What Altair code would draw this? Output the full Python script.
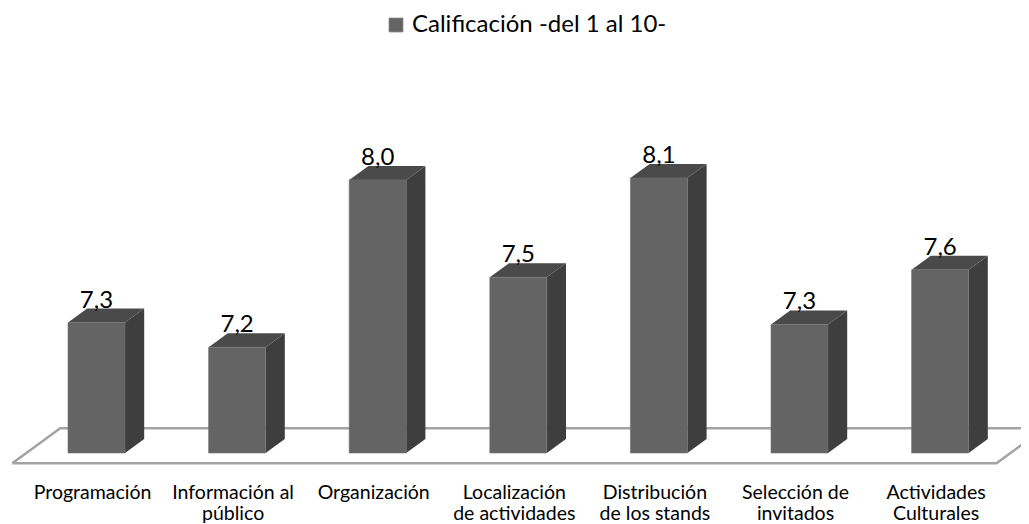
import altair as alt
import pandas as pd

# ---------------- data ----------------
categories = [
    "Programación",
    "Información al\npúblico",
    "Organización",
    "Localización\nde actividades",
    "Distribución\nde los stands",
    "Selección de\ninvitados",
    "Actividades\nCulturales",
]
values = [7.29, 7.16, 8.045, 7.53, 8.055, 7.28, 7.57]
series_name = "Calificación -del 1 al 10-"

# ---------------- geometry constants ----------------
W, H = 1013, 516
BASE = 6.6                      # value-axis minimum (floor level)
X_DOMAIN = [-0.62945, 6.57535]  # category units
Y_DOMAIN = [6.22434, 8.95455]   # value units
HW = 0.2027                     # half width of bar front face
DEPTH_DX, DEPTH_DY = 0.3414, 0.1852   # full floor depth offset
F0, F1 = 0.29, 0.69             # bar front/back position in floor depth
BDX = (F1 - F0) * DEPTH_DX
BDY = (F1 - F0) * DEPTH_DY

FRONT = "#646464"
SIDE = "#3e3e3e"
TOP = "#4a4a4a"
FLOOR = "#a3a3a3"
FONT = "Lato"

n = len(categories)
idx = list(range(n))

bars = pd.DataFrame({"i": idx, "cat": categories, "v": values})
bars["x1"] = bars["i"] - HW
bars["x2"] = bars["i"] + HW
bars["base"] = BASE
bars["label"] = [f"{v:.1f}".replace(".", ",") for v in values]

side_rows, top_rows = [], []
for i, v in zip(idx, values):
    side_rows.append({"i": i, "x": i + HW, "y": v, "y2": BASE})
    side_rows.append({"i": i, "x": i + HW + BDX, "y": v + BDY, "y2": BASE + BDY})
    top_rows.append({"i": i, "y": v, "x": i - HW, "x2": i + HW})
    top_rows.append({"i": i, "y": v + BDY, "x": i - HW + BDX, "x2": i + HW + BDX})
side = pd.DataFrame(side_rows)
top = pd.DataFrame(top_rows)

fx0 = -0.5 - F0 * DEPTH_DX
fx1 = (n - 0.5) - F0 * DEPTH_DX
fy0 = BASE - F0 * DEPTH_DY
floor = pd.DataFrame({
    "o": [0, 1, 2, 3, 4],
    "x": [fx0, fx1, fx1 + DEPTH_DX, fx0 + DEPTH_DX, fx0],
    "y": [fy0, fy0, fy0 + DEPTH_DY, fy0 + DEPTH_DY, fy0],
})

legend = pd.DataFrame({"name": [series_name]})

xs = alt.Scale(domain=X_DOMAIN, nice=False, zero=False)
ys = alt.Scale(domain=Y_DOMAIN, nice=False, zero=False)

floor_layer = alt.Chart(floor).mark_line(
    color=FLOOR, strokeWidth=2.5, strokeJoin="miter"
).encode(
    x=alt.X("x:Q", scale=xs, axis=None),
    y=alt.Y("y:Q", scale=ys, axis=None),
    order="o:Q",
)

side_layer = alt.Chart(side).mark_area(orient="vertical", color=SIDE).encode(
    x=alt.X("x:Q", scale=xs, axis=None),
    y=alt.Y("y:Q", scale=ys, axis=None),
    y2="y2:Q",
    detail="i:N",
)

top_layer = alt.Chart(top).mark_area(orient="horizontal", color=TOP).encode(
    y=alt.Y("y:Q", scale=ys, axis=None),
    x=alt.X("x:Q", scale=xs, axis=None),
    x2="x2:Q",
    detail="i:N",
)

front_layer = alt.Chart(bars).mark_rect(color=FRONT, stroke="#707070", strokeWidth=0.6).encode(
    x=alt.X("x1:Q", scale=xs, axis=None),
    x2="x2:Q",
    y=alt.Y("v:Q", scale=ys, axis=None),
    y2="base:Q",
)

value_labels = alt.Chart(bars).mark_text(
    font=FONT, fontSize=24, color="#000000", baseline="alphabetic", align="center", dy=-15
).encode(
    x=alt.X("i:Q", scale=xs, axis=None),
    y=alt.Y("v:Q", scale=ys, axis=None),
    text="label:N",
)

cat_labels = alt.Chart(bars).mark_text(
    font=FONT, fontSize=19.5, color="#000000", baseline="alphabetic", align="center",
    lineBreak="\n", lineHeight=21, dx=-4
).encode(
    x=alt.X("i:Q", scale=xs, axis=None),
    y=alt.value(491),
    text="cat:N",
)

legend_box = alt.Chart(legend).mark_rect(color=FRONT, stroke="#8c8c8c", strokeWidth=0.8).encode(
    x=alt.value(381), x2=alt.value(395), y=alt.value(10), y2=alt.value(24)
)
legend_text = alt.Chart(legend).mark_text(
    font=FONT, fontSize=24, color="#000000", align="left", baseline="alphabetic"
).encode(
    x=alt.value(404), y=alt.value(24), text="name:N"
)

chart = alt.layer(
    floor_layer, side_layer, top_layer, front_layer, value_labels, cat_labels,
    legend_box, legend_text,
).properties(
    width=W, height=H, autosize=alt.AutoSizeParams(type="none"), padding=0,
    background="white",
).configure_view(stroke=None)

chart.save("out.html", embed_options={"renderer": "svg", "actions": False})
